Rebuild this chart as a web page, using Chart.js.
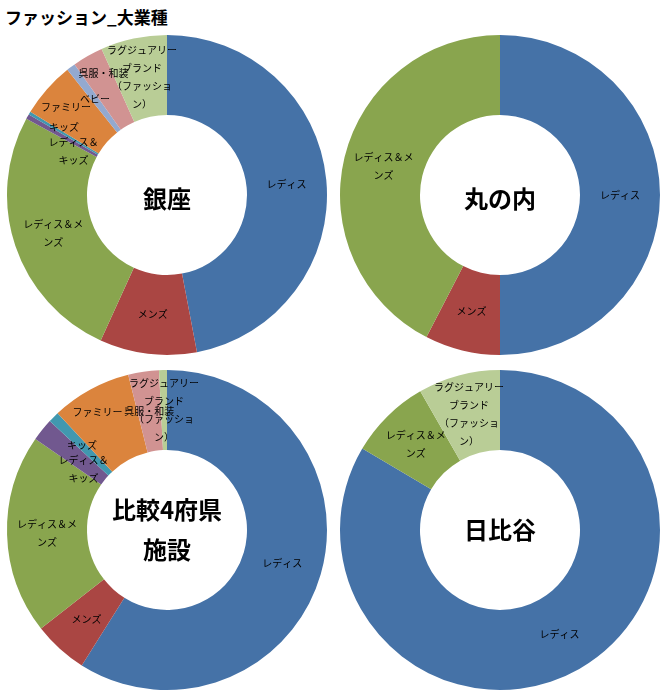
<!DOCTYPE html>
<html>
<head>
<meta charset="utf-8">
<script src="https://cdn.jsdelivr.net/npm/chart.js@4.4.0/dist/chart.umd.min.js"></script>
<style>
  body { margin: 0; background: #fff; width: 670px; height: 700px; position: relative; overflow: hidden; }
  .title { position: absolute; left: 5px; top: 4px; font: bold 17px "Noto Sans CJK JP", sans-serif; color: #000; }
  .box { position: absolute; width: 330px; height: 330px; }
</style>
</head>
<body>
<div class="title">ファッション_大業種</div>
<div class="box" style="left:2px;top:30px"><canvas id="c0" width="330" height="330"></canvas></div>
<div class="box" style="left:335px;top:30px"><canvas id="c1" width="330" height="330"></canvas></div>
<div class="box" style="left:2px;top:365px"><canvas id="c2" width="330" height="330"></canvas></div>
<div class="box" style="left:335px;top:365px"><canvas id="c3" width="330" height="330"></canvas></div>
<script>
// categories and wrapped label text (as Excel wraps it)
const categories = ['レディス', 'メンズ', 'レディス＆メンズ', 'レディス＆キッズ', 'キッズ', 'ファミリー', 'ベビー', '呉服・和装', 'ラグジュアリーブランド（ファッション）'];
const labelLines = [['レディス'], ['メンズ'], ['レディス＆メ', 'ンズ'], ['レディス＆', 'キッズ'], ['キッズ'], ['ファミリー'], ['ベビー'], ['呉服・和装'], ['ラグジュアリー', 'ブランド', '（ファッショ', 'ン）']];

// share (%) per area
const ginza      = [47.0, 9.8, 26.1, 0.5, 0.3, 5.6, 0.9, 3.1, 6.7];
const marunouchi = [50.0, 7.6, 42.4, 0, 0, 0, 0, 0, 0];
const hikaku     = [59.0, 5.5, 20.2, 2.3, 1.1, 8.1, 0, 3.1, 0.8];
const hibiya     = [83.5, 0, 8.2, 0, 0, 0, 0, 0, 8.3];

const centerTitles = [['銀座'], ['丸の内'], ['比較4府県', '施設'], ['日比谷']];

const colors = ['#4572A7', '#AA4643', '#89A54E', '#71588F', '#4198AF', '#DB843D', '#93A9CF', '#D19392', '#B9CD96'];

const labelFont = '10px "Noto Sans CJK JP", sans-serif';

// Excel moved a few crowded labels a bit
const nudges = [
    {3: [11, 15], 4: [0, -6], 5: [-11, -8], 7: [-4, -18]},
    {},
    {3: [10, 14], 5: [-12, -12]},
    {}
];
// center text boxes sit a little differently in the top and bottom row
const centerShift = [4, 4, 0, 0];

const sliceLabels = {
    id: 'sliceLabels',
    afterDatasetsDraw(chart, args, opts) {
        const ctx = chart.ctx;
        const meta = chart.getDatasetMeta(0);
        const values = chart.data.datasets[0].data;
        ctx.save();
        ctx.font = labelFont;
        ctx.fillStyle = '#000';
        ctx.textAlign = 'center';
        ctx.textBaseline = 'middle';
        meta.data.forEach((arc, i) => {
            if (!values[i]) return;
            const p = arc.getProps(['x', 'y', 'startAngle', 'endAngle', 'innerRadius', 'outerRadius'], true);
            const mid = (p.startAngle + p.endAngle) / 2;
            const r = (p.innerRadius + p.outerRadius) / 2;
            const off = opts.nudge[i] || [0, 0];
            const cx = p.x + Math.cos(mid) * r + off[0];
            const cy = p.y + Math.sin(mid) * r + off[1];
            const lines = labelLines[i];
            const lh = 18;
            lines.forEach((t, k) => {
                ctx.fillText(t, cx, cy + (k - (lines.length - 1) / 2) * lh);
            });
        });
        ctx.restore();
    }
};

const centerText = {
    id: 'centerText',
    afterDraw(chart, args, opts) {
        const ctx = chart.ctx;
        const arc = chart.getDatasetMeta(0).data[0];
        const lines = opts.lines;
        ctx.save();
        ctx.font = 'bold 24px "Noto Sans CJK JP", sans-serif';
        ctx.fillStyle = '#000';
        ctx.textAlign = 'center';
        ctx.textBaseline = 'middle';
        lines.forEach((t, k) => {
            ctx.fillText(t, arc.x, arc.y + opts.shift + (k - (lines.length - 1) / 2) * 40);
        });
        ctx.restore();
    }
};

[ginza, marunouchi, hikaku, hibiya].forEach((vals, n) => {
    new Chart(document.getElementById('c' + n), {
        type: 'doughnut',
        data: {
            labels: categories,
            datasets: [{
                data: vals,
                backgroundColor: colors,
                borderWidth: 0
            }]
        },
        options: {
            responsive: false,
            animation: false,
            cutout: '50%',
            layout: {padding: 5},
            plugins: {
                legend: {display: false},
                tooltip: {enabled: false},
                sliceLabels: {nudge: nudges[n]},
                centerText: {lines: centerTitles[n], shift: centerShift[n]}
            }
        },
        plugins: [sliceLabels, centerText]
    });
});
</script>
</body>
</html>
